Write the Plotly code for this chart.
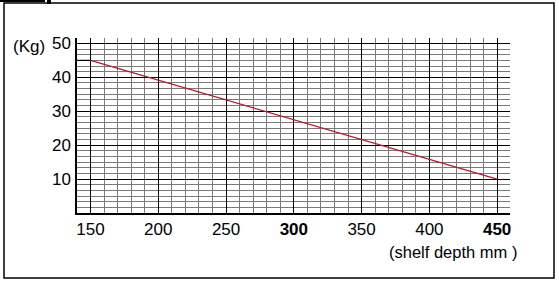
import plotly.graph_objects as go

# ---- data ----
depth_mm = [150, 450]          # shelf depth (mm)
load_kg = [45, 10]             # max load (Kg)
lead_x = [140, 150]            # short black lead line from axis to start
lead_y = [45, 45]
x_ticks = [150, 200, 250, 300, 350, 400, 450]
x_tick_text = ["150", "200", "250", "<b>300</b>", "350", "400", "<b>450</b>"]
y_ticks = [10, 20, 30, 40, 50]
y_tick_text = ["10", "20", "30", "40", "50"]

W_PX, H_PX = 559, 284
L, T, R, B = 77, 38, 510, 213
PW, PH = R - L, B - T

def px(x):
    return (x - L) / PW

def py(y):
    return (B - y) / PH

FONT = "Liberation Sans, Arial, sans-serif"

fig = go.Figure()
fig.add_trace(go.Scatter(x=lead_x, y=lead_y, mode="lines",
                         line=dict(color="black", width=1.2), showlegend=False,
                         hoverinfo="skip"))
fig.add_trace(go.Scatter(x=depth_mm, y=load_kg, mode="lines",
                         line=dict(color="#b8182e", width=1.2), showlegend=False))

fig.update_layout(
    width=W_PX, height=H_PX,
    margin=dict(l=L, r=W_PX - R, t=T, b=H_PX - B, pad=0),
    paper_bgcolor="white", plot_bgcolor="white",
    font=dict(family=FONT, color="black"),
    xaxis=dict(
        range=[140, 459.5], tickmode="array", tickvals=x_ticks, ticktext=x_tick_text,
        showgrid=True, gridcolor="black", gridwidth=1.3,
        minor=dict(dtick=10, tick0=140, showgrid=True, gridcolor="#7a7a7a", gridwidth=1),
        showline=True, linecolor="black", linewidth=1.5, mirror=False,
        zeroline=False, ticks="", tickfont=dict(size=17, family=FONT, color="black"),
        ticklabelstandoff=0,
    ),
    yaxis=dict(
        range=[0, 51.6], tickmode="array", tickvals=y_ticks, ticktext=y_tick_text,
        showgrid=True, gridcolor="black", gridwidth=1.3,
        minor=dict(dtick=10 / 6, tick0=0, showgrid=True, gridcolor="#7a7a7a", gridwidth=1),
        showline=True, linecolor="black", linewidth=1.5,
        zeroline=False, ticks="", tickfont=dict(size=17, family=FONT, color="black"),
        ticklabelstandoff=1,
    ),
    shapes=[
        dict(type="rect", xref="paper", yref="paper",
             x0=px(4), x1=px(554), y0=py(278), y1=py(3),
             line=dict(color="black", width=1.5), layer="below"),
        dict(type="rect", xref="paper", yref="paper",
             x0=px(0), x1=px(45), y0=py(2), y1=py(0),
             line=dict(width=0), fillcolor="black"),
        dict(type="rect", xref="paper", yref="paper",
             x0=px(47), x1=px(51), y0=py(4), y1=py(0),
             line=dict(width=0), fillcolor="black"),
    ],
    annotations=[
        dict(text="(Kg)", xref="paper", yref="paper", x=px(11), y=py(46),
             xanchor="left", yanchor="middle", showarrow=False,
             font=dict(size=17, family=FONT, color="black")),
        dict(text="(shelf depth mm )", xref="paper", yref="paper", x=px(387), y=py(252),
             xanchor="left", yanchor="middle", showarrow=False,
             font=dict(size=16.5, family=FONT, color="black")),
    ],
)

fig.write_html("out.html")
